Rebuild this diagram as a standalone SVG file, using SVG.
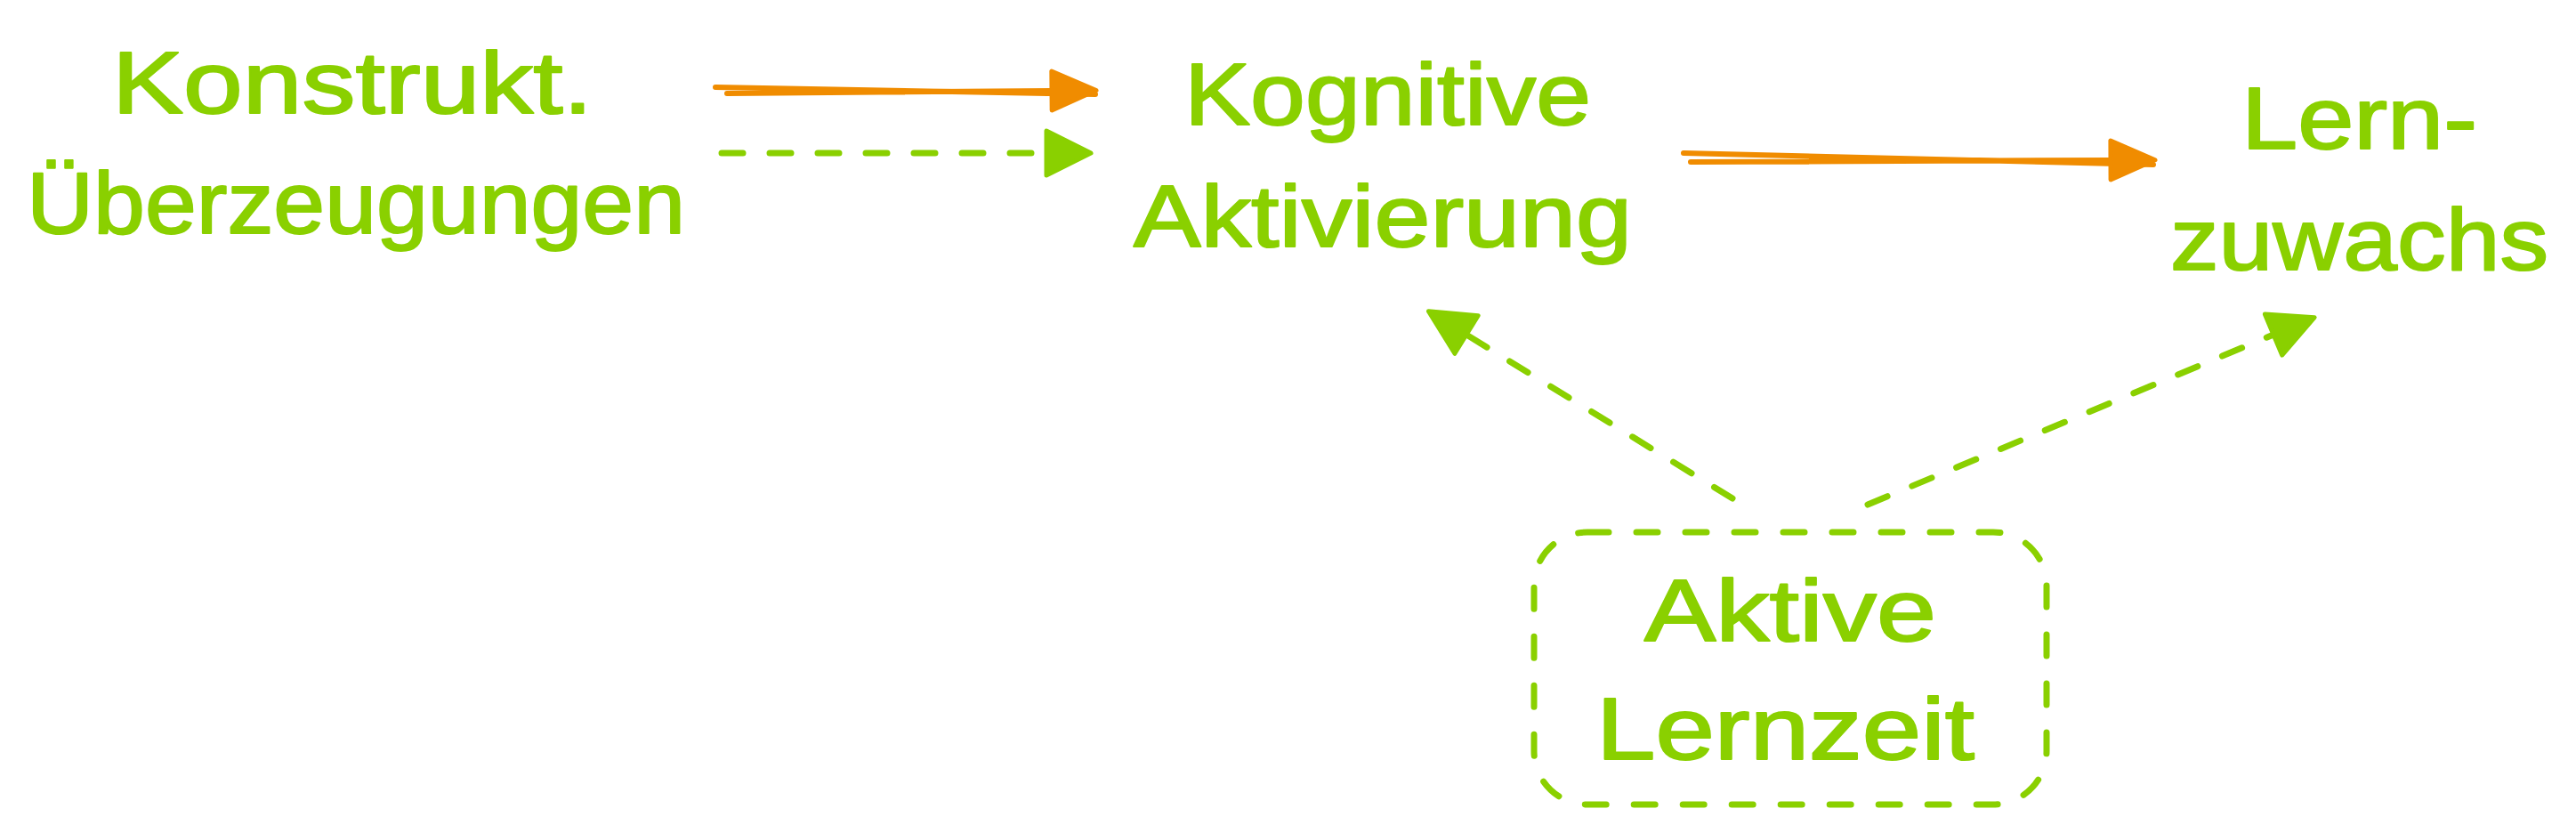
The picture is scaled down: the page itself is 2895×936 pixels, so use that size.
<svg xmlns="http://www.w3.org/2000/svg" width="2895" height="936" viewBox="0 0 2895 936">
<defs>
<style>
.lbl{font-family:"Liberation Sans",Arial,sans-serif;font-size:98px;fill:#8ad000;stroke:#8ad000;stroke-width:2;stroke-linejoin:round;}
.dash{fill:none;stroke:#8ad000;stroke-width:7;stroke-linecap:round;stroke-linejoin:round;stroke-dasharray:24 30;}
.solid{fill:none;stroke:#f08c00;stroke-width:6;stroke-linecap:round;}
.box{fill:none;stroke:#8ad000;stroke-width:7;stroke-linecap:round;stroke-dasharray:24 31;}
</style>
<marker id="hO" markerUnits="userSpaceOnUse" viewBox="-5 -30 60 60" markerWidth="60" markerHeight="60" refX="0" refY="0" orient="auto">
<path d="M50 0 L0 -22 L0 22 Z" fill="#f08c00" stroke="#f08c00" stroke-width="5" stroke-linejoin="round"/>
</marker>
<marker id="hG" markerUnits="userSpaceOnUse" viewBox="-5 -30 60 60" markerWidth="60" markerHeight="60" refX="0" refY="0" orient="auto">
<path d="M50 0 L0 -25 L0 25 Z" fill="#8ad000" stroke="#8ad000" stroke-width="5" stroke-linejoin="round"/>
</marker>
</defs>
<rect width="2895" height="936" fill="#ffffff"/>
<g id="connectors">
<path id="c1" class="solid" d="M804 98 L1231 106 M817 105 L1182 102" marker-end="url(#hO)"/>
<path id="c2" class="dash" d="M811 172 L1176 172" marker-end="url(#hG)"/>
<path id="c3" class="solid" d="M1892 172 L2420 185 M1900 182 L2372 180" marker-end="url(#hO)"/>
<path id="c4" class="dash" d="M1947 560 L1648 376" marker-end="url(#hG)"/>
<path id="c5" class="dash" d="M2099 567 L2555 376" marker-end="url(#hG)"/>
</g>
<g id="n-konstrukt">
<text class="lbl" x="126" y="127" textLength="540" lengthAdjust="spacingAndGlyphs">Konstrukt.</text>
<text class="lbl" x="30" y="262" textLength="740" lengthAdjust="spacingAndGlyphs">Überzeugungen</text>
</g>
<g id="n-kognitive">
<text class="lbl" x="1331" y="140" textLength="457" lengthAdjust="spacingAndGlyphs">Kognitive</text>
<text class="lbl" x="1274" y="277" textLength="560" lengthAdjust="spacingAndGlyphs">Aktivierung</text>
</g>
<g id="n-lernzuwachs">
<text class="lbl" x="2519" y="167" textLength="265" lengthAdjust="spacingAndGlyphs">Lern-</text>
<text class="lbl" x="2439" y="303" textLength="425" lengthAdjust="spacingAndGlyphs">zuwachs</text>
</g>
<g id="n-aktive">
<rect class="box" x="1724" y="598" width="576" height="306" rx="60" ry="60"/>
<text class="lbl" x="1848" y="720" textLength="328" lengthAdjust="spacingAndGlyphs">Aktive</text>
<text class="lbl" x="1794" y="853" textLength="425" lengthAdjust="spacingAndGlyphs">Lernzeit</text>
</g>
</svg>
